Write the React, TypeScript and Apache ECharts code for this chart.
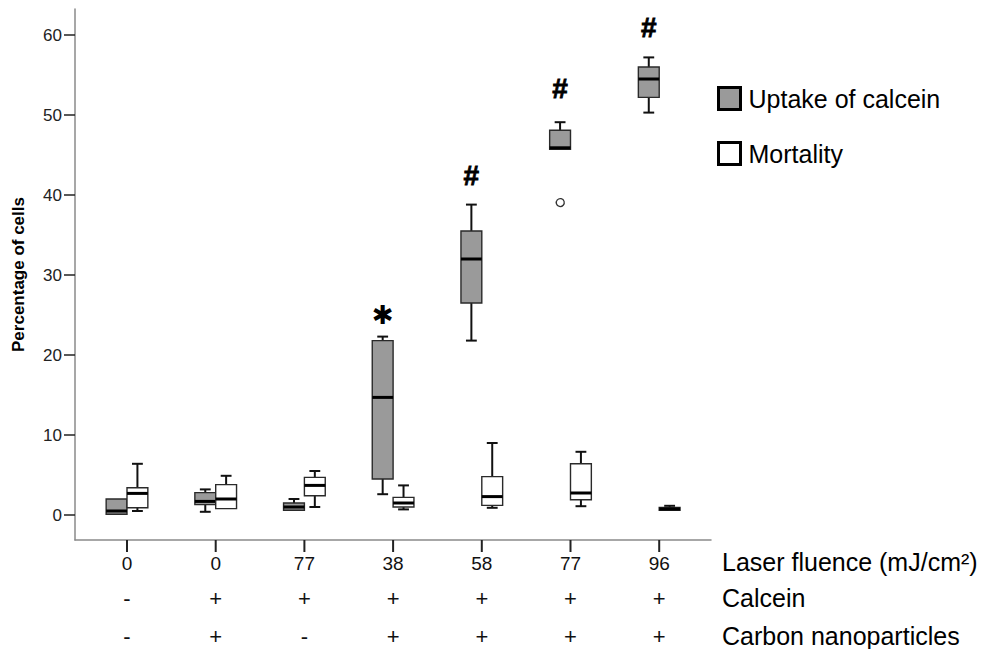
import React, { useEffect, useRef } from "react";
import * as echarts from "echarts";

// ---- data ----
const fluence = ["0", "0", "77", "38", "58", "77", "96"];
const calceinRow = ["-", "+", "+", "+", "+", "+", "+"];
const carbonRow = ["-", "+", "-", "+", "+", "+", "+"];

// [min, q1, median, q3, max]
const uptake = [
  [0.1, 0.1, 0.5, 2.0, 2.0],
  [0.4, 1.3, 1.7, 2.8, 3.2],
  [0.6, 0.6, 1.0, 1.5, 2.0],
  [2.6, 4.5, 14.7, 21.8, 22.3],
  [21.8, 26.5, 32.0, 35.5, 38.8],
  [45.7, 45.7, 45.9, 48.1, 49.1],
  [50.3, 52.2, 54.5, 56.0, 57.2],
];
const mortality = [
  [0.5, 0.9, 2.7, 3.4, 6.4],
  [0.8, 0.8, 2.0, 3.8, 4.9],
  [1.0, 2.4, 3.7, 4.7, 5.5],
  [0.7, 1.0, 1.5, 2.2, 3.7],
  [0.9, 1.2, 2.3, 4.8, 9.0],
  [1.1, 1.9, 2.75, 6.4, 7.9],
  [0.6, 0.6, 0.75, 0.95, 1.15],
];
// outliers of uptake: [category index, value]
const uptakeOutliers = [[5, 39.2]];
// significance marks above uptake boxes: [category index, value]
const signifPos = [[3, 25.0], [4, 42.4], [5, 53.3], [6, 60.9]];
const signifText = ["\u2731", "#", "#", "#"];
const yTicks = [0, 10, 20, 30, 40, 50, 60];

// axis range (value units)
const Y_MAX = 63.25;
const Y_BASE = -3.125; // where the x-axis line sits
const Y_MIN = -4.625; // bottom of the tick marks

const FONT = "'Liberation Sans', Arial, Helvetica, sans-serif";
const GRAY = "#9a9a9a";
const AXIS_GRAY = "#8a8a8a";

function makeBoxRenderer(side: number, fill: string) {
  return (params: any, api: any) => {
    const idx = api.value(0);
    const band = api.size([1, 0])[0];
    const bw = band * 0.235;
    const cx = api.coord([idx, 0])[0] + (side * bw) / 2;
    const y = (v: number) => api.coord([idx, v])[1];
    const mn = api.value(1), q1 = api.value(2), md = api.value(3), q3 = api.value(4), mx = api.value(5);
    const capW = bw * 0.52;
    const children: any[] = [];
    const lineStyle = { stroke: "#111", lineWidth: 2 };
    if (mx > q3 + 0.01) {
      children.push({ type: "line", shape: { x1: cx, y1: y(q3), x2: cx, y2: y(mx) }, style: lineStyle });
      children.push({ type: "line", shape: { x1: cx - capW / 2, y1: y(mx), x2: cx + capW / 2, y2: y(mx) }, style: lineStyle });
    }
    if (mn < q1 - 0.01) {
      children.push({ type: "line", shape: { x1: cx, y1: y(q1), x2: cx, y2: y(mn) }, style: lineStyle });
      children.push({ type: "line", shape: { x1: cx - capW / 2, y1: y(mn), x2: cx + capW / 2, y2: y(mn) }, style: lineStyle });
    }
    children.push({
      type: "rect",
      shape: { x: cx - bw / 2, y: y(q3), width: bw, height: y(q1) - y(q3) },
      style: { fill, stroke: "#2a2a2a", lineWidth: 1.4 },
    });
    children.push({
      type: "line",
      shape: { x1: cx - bw / 2, y1: y(md), x2: cx + bw / 2, y2: y(md) },
      style: { stroke: "#000", lineWidth: 3 },
    });
    return { type: "group", children };
  };
}

const rowTitles = [
  { id: "t1", type: "text", left: 722, top: 549, style: { text: "Laser fluence (mJ/cm\u00B2)", fontSize: 25, fill: "#000", fontFamily: FONT } },
  { id: "t2", type: "text", left: 722, top: 585, style: { text: "Calcein", fontSize: 25, fill: "#000", fontFamily: FONT } },
  { id: "t3", type: "text", left: 722, top: 623, style: { text: "Carbon nanoparticles", fontSize: 25, fill: "#000", fontFamily: FONT } },
];

export default function App() {
  const ref = useRef<HTMLDivElement>(null);
  useEffect(() => {
    if (!ref.current) return;
    const chart = echarts.init(ref.current, null, { renderer: "svg" });
    const option: any = {
      animation: false,
      backgroundColor: "#ffffff",
      textStyle: { fontFamily: FONT },
      grid: [
        { left: 82.65, right: 304.45, top: 9, bottom: 97 },
        { left: 75, right: 297, top: 9, bottom: 109 },
      ],
      legend: {
        orient: "vertical",
        left: 712,
        top: 81,
        itemWidth: 22,
        itemHeight: 22,
        itemGap: 30,
        selectedMode: false,
        textStyle: { fontSize: 25, color: "#000", fontFamily: FONT, lineHeight: 24, padding: [0, 0, 0, 3] },
        data: [
          { name: "Uptake of calcein", icon: "rect", itemStyle: { color: GRAY, borderColor: "#000", borderWidth: 3 } },
          { name: "Mortality", icon: "rect", itemStyle: { color: "#fff", borderColor: "#000", borderWidth: 3 } },
        ],
      },
      xAxis: [
        {
          type: "category",
          gridIndex: 0,
          data: fluence,
          boundaryGap: true,
          axisLine: { show: false, onZero: false },
          axisTick: { show: false },
          axisLabel: { interval: 0, fontSize: 19, color: "#111", margin: 2, lineHeight: 19, fontFamily: FONT },
          splitLine: { show: false },
        },
        {
          type: "category",
          gridIndex: 0,
          position: "bottom",
          offset: 35,
          data: calceinRow,
          axisLine: { show: false, onZero: false },
          axisTick: { show: false },
          axisLabel: { fontSize: 22, color: "#111", margin: 0, lineHeight: 22, fontFamily: FONT },
        },
        {
          type: "category",
          gridIndex: 0,
          position: "bottom",
          offset: 73,
          data: carbonRow,
          axisLine: { show: false, onZero: false },
          axisTick: { show: false },
          axisLabel: { fontSize: 22, color: "#111", margin: 0, lineHeight: 22, fontFamily: FONT },
        },
        {
          type: "value",
          gridIndex: 1,
          min: 0,
          max: 1,
          axisLine: { show: true, onZero: false, lineStyle: { color: AXIS_GRAY, width: 1.5 } },
          axisTick: { show: false },
          axisLabel: { show: false },
          splitLine: { show: false },
        },
      ],
      yAxis: [
        {
          type: "value",
          gridIndex: 0,
          min: Y_MIN,
          max: Y_MAX,
          offset: 7.65,
          axisLine: { show: false, onZero: false },
          axisTick: { show: true, length: 11, customValues: yTicks, lineStyle: { color: "#222", width: 1.5 } },
          axisLabel: { fontSize: 17, color: "#222", margin: 13, customValues: yTicks, fontFamily: FONT },
          splitLine: { show: false },
        },
        {
          type: "value",
          gridIndex: 1,
          min: 0,
          max: 1,
          name: "Percentage of cells",
          nameLocation: "middle",
          nameGap: 48,
          nameRotate: 90,
          nameTextStyle: { fontSize: 17, fontWeight: "bold", color: "#000", fontFamily: FONT },
          axisLine: { show: true, onZero: false, lineStyle: { color: AXIS_GRAY, width: 1.5 } },
          axisTick: { show: false },
          axisLabel: { show: false },
          splitLine: { show: false },
        },
      ],
      graphic: rowTitles,
      series: [
        {
          name: "Uptake of calcein",
          type: "custom",
          xAxisIndex: 0,
          yAxisIndex: 0,
          itemStyle: { color: GRAY, borderColor: "#000", borderWidth: 3 },
          renderItem: makeBoxRenderer(-1, GRAY),
          encode: { x: 0, y: [1, 2, 3, 4, 5] },
          data: uptake.map((d, i) => [i, ...d]),
          z: 3,
        },
        {
          name: "Mortality",
          type: "custom",
          xAxisIndex: 0,
          yAxisIndex: 0,
          itemStyle: { color: "#fff", borderColor: "#000", borderWidth: 3 },
          renderItem: makeBoxRenderer(1, "#ffffff"),
          encode: { x: 0, y: [1, 2, 3, 4, 5] },
          data: mortality.map((d, i) => [i, ...d]),
          z: 3,
        },
        {
          name: "outliers",
          type: "custom",
          xAxisIndex: 0,
          yAxisIndex: 0,
          renderItem: (params: any, api: any) => {
            const idx = api.value(0);
            const bw = api.size([1, 0])[0] * 0.235;
            const p = api.coord([idx, api.value(1)]);
            return {
              type: "circle",
              shape: { cx: p[0] - bw / 2, cy: p[1], r: 4 },
              style: { fill: "#fff", stroke: "#333", lineWidth: 1.3 },
            };
          },
          encode: { x: 0, y: 1 },
          data: uptakeOutliers,
          z: 4,
        },
        {
          name: "significance",
          type: "custom",
          xAxisIndex: 0,
          yAxisIndex: 0,
          renderItem: (params: any, api: any) => {
            const idx = api.value(0);
            const bw = api.size([1, 0])[0] * 0.235;
            const p = api.coord([idx, api.value(1)]);
            const t = signifText[params.dataIndex];
            const isStar = t !== "#";
            return {
              type: "text",
              x: p[0] - bw / 2,
              y: p[1],
              style: {
                text: t,
                fill: "#000",
                font: isStar ? "bold 26px 'DejaVu Sans', sans-serif" : "bold 28px 'Liberation Sans', Arial, sans-serif",
                align: "center",
                verticalAlign: "middle",
                stroke: isStar ? undefined : "#000",
                lineWidth: isStar ? 0 : 0.8,
              },
            };
          },
          encode: { x: 0, y: 1 },
          data: signifPos,
          z: 4,
        },
      ],
    };
    chart.setOption(option);

    // x-axis tick marks, positioned through the chart's own scales
    const ticks = fluence.map((_, i) => {
      const top = chart.convertToPixel({ gridIndex: 0 } as any, [i, Y_BASE]) as number[];
      const bot = chart.convertToPixel({ gridIndex: 0 } as any, [i, Y_MIN]) as number[];
      return {
        id: "tick" + i,
        type: "line",
        z: 100,
        silent: true,
        shape: { x1: top[0], y1: top[1], x2: bot[0], y2: bot[1] },
        style: { stroke: "#222", lineWidth: 2 },
      };
    });
    chart.setOption({ graphic: [...rowTitles, ...ticks] });

    return () => chart.dispose();
  }, []);
  return (
    <div
      ref={ref}
      style={{ position: "fixed", left: 0, top: 0, width: 1008, height: 649, background: "#fff" }}
    />
  );
}
